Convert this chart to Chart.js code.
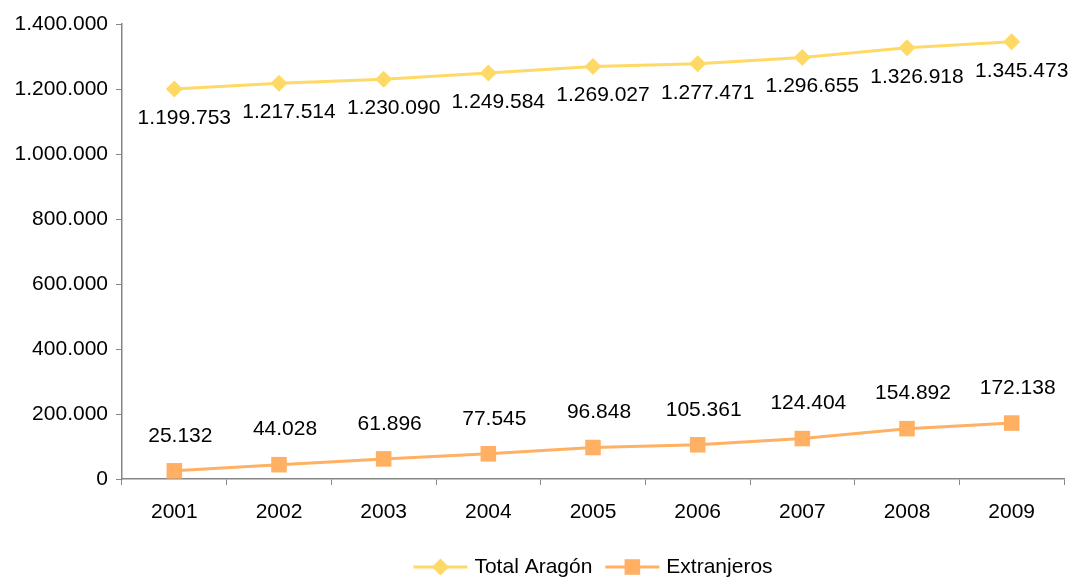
<!DOCTYPE html>
<html>
<head>
<meta charset="utf-8">
<script src="https://cdn.jsdelivr.net/npm/chart.js@4/dist/chart.umd.min.js"></script>
<style>
  html, body { margin: 0; padding: 0; background: #fff; overflow: hidden; }
  #wrap { width: 1080px; height: 578px; }
</style>
</head>
<body>
<div id="wrap"><canvas id="chart" width="1080" height="578"></canvas></div>
<script>
var years = ["2001", "2002", "2003", "2004", "2005", "2006", "2007", "2008", "2009"];
var totalAragon = [1199753, 1217514, 1230090, 1249584, 1269027, 1277471, 1296655, 1326918, 1345473];
var extranjeros = [25132, 44028, 61896, 77545, 96848, 105361, 124404, 154892, 172138];
var seriesNames = ["Total Aragón", "Extranjeros"];

var FONT = "'Liberation Sans', Arial, sans-serif";
var FONT_SIZE = 21;
var YELLOW = "#FFD966";
var ORANGE = "#FFB062";

// miles con punto: 1200000 -> "1.200.000"
function fmt(n) {
  return String(n).replace(/\B(?=(\d{3})+(?!\d))/g, ".");
}

// etiquetas de datos: Total debajo, Extranjeros encima
var valueLabels = {
  id: "valueLabels",
  afterDatasetsDraw: function(chart) {
    var ctx = chart.ctx;
    ctx.save();
    ctx.font = FONT_SIZE + "px " + FONT;
    ctx.fillStyle = "#000";
    ctx.textAlign = "center";
    ctx.textBaseline = "middle";
    chart.data.datasets.forEach(function(ds, i) {
      var meta = chart.getDatasetMeta(i);
      meta.data.forEach(function(pt, j) {
        var dx = i === 0 ? 10 : 6;
        var dy = i === 0 ? 29 : -35;
        ctx.fillText(fmt(ds.data[j]), pt.x + dx, pt.y + dy);
      });
    });
    ctx.restore();
  }
};

// leyenda tipo Excel: linea con marcador en el centro
var lineLegend = {
  id: "lineLegend",
  afterDraw: function(chart) {
    var ctx = chart.ctx;
    ctx.save();
    ctx.font = FONT_SIZE + "px " + FONT;
    var y = 567;
    var lineW = 54, gap = 7, sep = 13;
    var total = 0;
    chart.data.datasets.forEach(function(ds) {
      total += lineW + gap + ctx.measureText(ds.label).width;
    });
    total += sep;
    var area = chart.chartArea;
    var x = (area.left + area.right) / 2 - total / 2;
    chart.data.datasets.forEach(function(ds) {
      ctx.strokeStyle = ds.borderColor;
      ctx.lineWidth = 3;
      ctx.beginPath();
      ctx.moveTo(x, y);
      ctx.lineTo(x + lineW, y);
      ctx.stroke();
      ctx.fillStyle = ds.pointBackgroundColor;
      Chart.helpers.drawPoint(ctx, {
        pointStyle: ds.pointStyle,
        radius: ds.pointRadius,
        borderWidth: 0
      }, x + lineW / 2, y);
      ctx.fillStyle = "#000";
      ctx.textBaseline = "middle";
      ctx.textAlign = "left";
      ctx.fillText(ds.label, x + lineW + gap, y);
      x += lineW + gap + ctx.measureText(ds.label).width + sep;
    });
    ctx.restore();
  }
};

new Chart(document.getElementById("chart"), {
  type: "line",
  data: {
    labels: years,
    datasets: [
      {
        label: seriesNames[0],
        data: totalAragon,
        borderColor: YELLOW,
        backgroundColor: YELLOW,
        pointBackgroundColor: YELLOW,
        pointBorderColor: YELLOW,
        borderWidth: 3,
        pointStyle: "rectRot",
        pointRadius: 8.5,
        pointBorderWidth: 0,
        tension: 0
      },
      {
        label: seriesNames[1],
        data: extranjeros,
        borderColor: ORANGE,
        backgroundColor: ORANGE,
        pointBackgroundColor: ORANGE,
        pointBorderColor: ORANGE,
        borderWidth: 3,
        pointStyle: "rect",
        pointRadius: 11,
        pointBorderWidth: 0,
        tension: 0
      }
    ]
  },
  options: {
    responsive: false,
    animation: false,
    layout: { padding: { top: 24, right: 16, bottom: 60, left: 0 } },
    plugins: {
      legend: { display: false },
      tooltip: { enabled: false }
    },
    scales: {
      x: {
        offset: true,
        grid: {
          offset: true,
          drawOnChartArea: false,
          drawTicks: true,
          tickLength: 6,
          color: "#868686"
        },
        border: { color: "#868686", width: 1.5 },
        ticks: {
          color: "#000",
          font: { family: FONT, size: FONT_SIZE },
          padding: 15,
          maxRotation: 0
        },
        afterFit: function(scale) { scale.height = 39; }
      },
      y: {
        min: 0,
        max: 1400000,
        grid: {
          drawOnChartArea: false,
          drawTicks: true,
          tickLength: 6,
          color: "#868686"
        },
        border: { color: "#868686", width: 1.5 },
        ticks: {
          stepSize: 200000,
          color: "#000",
          font: { family: FONT, size: FONT_SIZE },
          padding: 8,
          callback: function(v) { return fmt(v); }
        },
        afterFit: function(scale) { scale.width = 122; }
      }
    }
  },
  plugins: [valueLabels, lineLegend]
});
</script>
</body>
</html>
